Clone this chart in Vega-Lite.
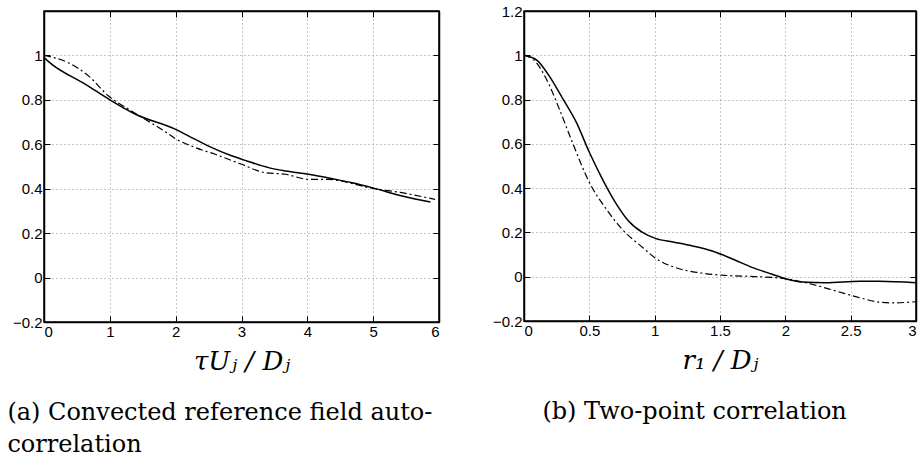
{
  "$schema": "https://vega.github.io/schema/vega-lite/v6.json",
  "background": "white",
  "padding": {"left": 6, "top": 3, "right": 0, "bottom": 6},
  "spacing": 50,
  "config": {
    "view": {"stroke": "black", "strokeWidth": 1.5},
    "axis": {
      "gridColor": "#8a8a8a",
      "gridDash": [1, 3],
      "gridWidth": 1,
      "domainColor": "black",
      "domainWidth": 1.5,
      "tickColor": "black",
      "tickSize": -6,
      "tickWidth": 1,
      "labelPadding": 8,
      "labelFont": "Liberation Sans",
      "labelFontSize": 15,
      "labelColor": "black",
      "titleFont": "DejaVu Serif",
      "titleFontStyle": "italic",
      "titleFontWeight": "normal",
      "titleFontSize": 26,
      "titleColor": "black",
      "titlePadding": 9
    },
    "title": {"font": "DejaVu Serif", "fontSize": 24, "fontWeight": "normal", "color": "black", "lineHeight": 32}
  },
  "datasets": {
    "left": [
      {"x": 0, "y": 0.99, "s": "A"}, {"x": 0.12, "y": 0.96, "s": "A"}, {"x": 0.63, "y": 0.87, "s": "A"}, {"x": 1.0, "y": 0.80, "s": "A"}, {"x": 1.39, "y": 0.735, "s": "A"}, {"x": 2.0, "y": 0.667, "s": "A"}, {"x": 2.2, "y": 0.637, "s": "A"}, {"x": 2.5, "y": 0.592, "s": "A"}, {"x": 2.86, "y": 0.547, "s": "A"}, {"x": 3.08, "y": 0.525, "s": "A"}, {"x": 3.41, "y": 0.495, "s": "A"}, {"x": 3.67, "y": 0.48, "s": "A"}, {"x": 4.02, "y": 0.465, "s": "A"}, {"x": 4.43, "y": 0.442, "s": "A"}, {"x": 4.68, "y": 0.427, "s": "A"}, {"x": 4.98, "y": 0.405, "s": "A"}, {"x": 5.44, "y": 0.367, "s": "A"}, {"x": 5.87, "y": 0.34, "s": "A"},
      {"x": 0, "y": 1.0, "s": "B"}, {"x": 0.37, "y": 0.967, "s": "B"}, {"x": 0.68, "y": 0.907, "s": "B"}, {"x": 0.98, "y": 0.817, "s": "B"}, {"x": 1.29, "y": 0.757, "s": "B"}, {"x": 1.54, "y": 0.712, "s": "B"}, {"x": 1.79, "y": 0.667, "s": "B"}, {"x": 2.0, "y": 0.625, "s": "B"}, {"x": 2.3, "y": 0.585, "s": "B"}, {"x": 2.6, "y": 0.555, "s": "B"}, {"x": 3.0, "y": 0.51, "s": "B"}, {"x": 3.36, "y": 0.472, "s": "B"}, {"x": 3.67, "y": 0.465, "s": "B"}, {"x": 4.02, "y": 0.442, "s": "B"}, {"x": 4.32, "y": 0.442, "s": "B"}, {"x": 4.63, "y": 0.427, "s": "B"}, {"x": 4.93, "y": 0.405, "s": "B"}, {"x": 5.44, "y": 0.382, "s": "B"}, {"x": 5.94, "y": 0.352, "s": "B"}
    ],
    "right": [
      {"x": 0, "y": 1.0, "s": "A"}, {"x": 0.10, "y": 0.977, "s": "A"}, {"x": 0.19, "y": 0.909, "s": "A"}, {"x": 0.29, "y": 0.811, "s": "A"}, {"x": 0.40, "y": 0.698, "s": "A"}, {"x": 0.50, "y": 0.562, "s": "A"}, {"x": 0.60, "y": 0.441, "s": "A"}, {"x": 0.70, "y": 0.335, "s": "A"}, {"x": 0.80, "y": 0.252, "s": "A"}, {"x": 0.91, "y": 0.199, "s": "A"}, {"x": 1.01, "y": 0.172, "s": "A"}, {"x": 1.14, "y": 0.157, "s": "A"}, {"x": 1.29, "y": 0.139, "s": "A"}, {"x": 1.44, "y": 0.116, "s": "A"}, {"x": 1.60, "y": 0.079, "s": "A"}, {"x": 1.75, "y": 0.041, "s": "A"}, {"x": 1.90, "y": 0.011, "s": "A"}, {"x": 2.0, "y": -0.009, "s": "A"}, {"x": 2.13, "y": -0.024, "s": "A"}, {"x": 2.31, "y": -0.027, "s": "A"}, {"x": 2.57, "y": -0.02, "s": "A"}, {"x": 2.72, "y": -0.02, "s": "A"}, {"x": 3.0, "y": -0.027, "s": "A"},
      {"x": 0, "y": 1.0, "s": "B"}, {"x": 0.09, "y": 0.97, "s": "B"}, {"x": 0.17, "y": 0.894, "s": "B"}, {"x": 0.27, "y": 0.758, "s": "B"}, {"x": 0.37, "y": 0.607, "s": "B"}, {"x": 0.50, "y": 0.426, "s": "B"}, {"x": 0.63, "y": 0.305, "s": "B"}, {"x": 0.75, "y": 0.215, "s": "B"}, {"x": 0.91, "y": 0.131, "s": "B"}, {"x": 1.01, "y": 0.082, "s": "B"}, {"x": 1.16, "y": 0.041, "s": "B"}, {"x": 1.34, "y": 0.018, "s": "B"}, {"x": 1.54, "y": 0.006, "s": "B"}, {"x": 1.80, "y": 0.0, "s": "B"}, {"x": 2.0, "y": -0.009, "s": "B"}, {"x": 2.21, "y": -0.035, "s": "B"}, {"x": 2.39, "y": -0.065, "s": "B"}, {"x": 2.57, "y": -0.095, "s": "B"}, {"x": 2.72, "y": -0.115, "s": "B"}, {"x": 2.82, "y": -0.118, "s": "B"}, {"x": 3.0, "y": -0.113, "s": "B"}
    ]
  },
  "hconcat": [
    {
      "width": 395,
      "height": 311,
      "title": {"text": ["(a) Convected reference field auto-", "correlation"], "orient": "bottom", "anchor": "start", "frame": "bounds", "dx": -5, "offset": 27},
      "data": {"name": "left"},
      "resolve": {"axis": {"x": "independent", "y": "independent"}},
      "layer": [
        {
          "transform": [{"filter": "datum.s === 'A'"}],
          "mark": {"type": "line", "color": "black", "strokeWidth": 1.5, "interpolate": "monotone"},
          "encoding": {
            "x": {"field": "x", "type": "quantitative", "scale": {"domain": [0, 6], "nice": false}, "axis": {"values": [0, 1, 2, 3, 4, 5, 6], "format": "~g", "grid": true, "title": "τUⱼ / Dⱼ"}},
            "y": {"field": "y", "type": "quantitative", "scale": {"domain": [-0.2, 1.2], "nice": false, "zero": false}, "axis": {"values": [-0.2, 0, 0.2, 0.4, 0.6, 0.8, 1], "format": "~g", "grid": true, "title": null}}
          }
        },
        {
          "transform": [{"filter": "datum.s === 'B'"}],
          "mark": {"type": "line", "color": "black", "strokeWidth": 1.2, "strokeDash": [7, 3, 2, 3], "interpolate": "monotone"},
          "encoding": {
            "x": {"field": "x", "type": "quantitative", "axis": {"orient": "top", "values": [0, 1, 2, 3, 4, 5, 6], "labels": false, "grid": false, "title": null}},
            "y": {"field": "y", "type": "quantitative", "axis": {"orient": "right", "values": [-0.2, 0, 0.2, 0.4, 0.6, 0.8, 1], "labels": false, "grid": false, "title": null}}
          }
        }
      ]
    },
    {
      "width": 392,
      "height": 310,
      "title": {"text": "(b) Two-point correlation", "orient": "bottom", "anchor": "start", "frame": "bounds", "dx": 50, "offset": 27},
      "data": {"name": "right"},
      "resolve": {"axis": {"x": "independent", "y": "independent"}},
      "layer": [
        {
          "transform": [{"filter": "datum.s === 'A'"}],
          "mark": {"type": "line", "color": "black", "strokeWidth": 1.5, "interpolate": "monotone"},
          "encoding": {
            "x": {"field": "x", "type": "quantitative", "scale": {"domain": [0, 3], "nice": false}, "axis": {"values": [0, 0.5, 1, 1.5, 2, 2.5, 3], "format": "~g", "grid": true, "title": "r₁ / Dⱼ"}},
            "y": {"field": "y", "type": "quantitative", "scale": {"domain": [-0.2, 1.2], "nice": false, "zero": false}, "axis": {"values": [-0.2, 0, 0.2, 0.4, 0.6, 0.8, 1, 1.2], "format": "~g", "grid": true, "title": null}}
          }
        },
        {
          "transform": [{"filter": "datum.s === 'B'"}],
          "mark": {"type": "line", "color": "black", "strokeWidth": 1.2, "strokeDash": [7, 3, 2, 3], "interpolate": "monotone"},
          "encoding": {
            "x": {"field": "x", "type": "quantitative", "axis": {"orient": "top", "values": [0, 0.5, 1, 1.5, 2, 2.5, 3], "labels": false, "grid": false, "title": null}},
            "y": {"field": "y", "type": "quantitative", "axis": {"orient": "right", "values": [-0.2, 0, 0.2, 0.4, 0.6, 0.8, 1, 1.2], "labels": false, "grid": false, "title": null}}
          }
        }
      ]
    }
  ]
}
